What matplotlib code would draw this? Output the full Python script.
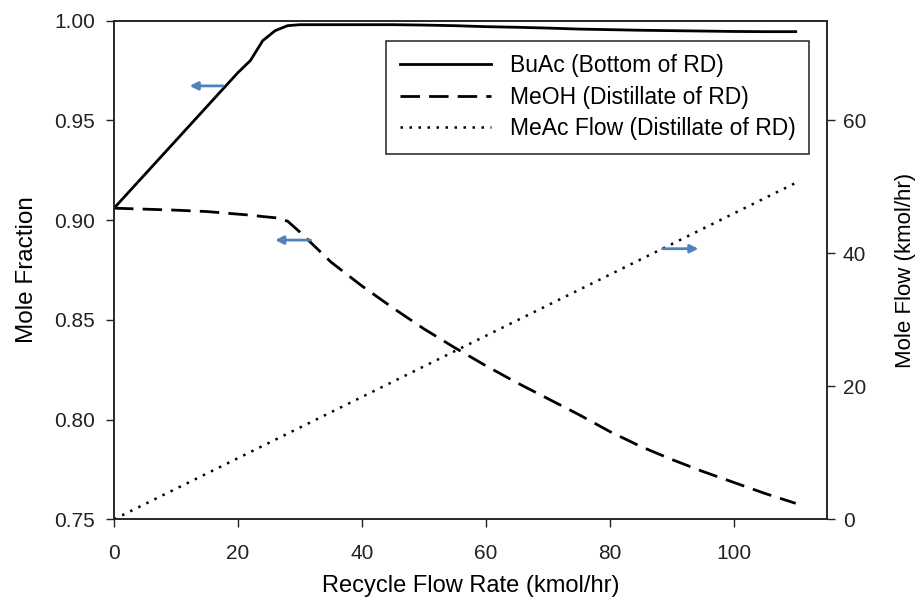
import matplotlib
matplotlib.use("Agg")
import matplotlib.pyplot as plt

plt.rcParams['font.family'] = ['Liberation Sans', 'DejaVu Sans']

# Recycle flow rate (kmol/hr)
recycle = [0, 5, 10, 15, 20, 22, 24, 26, 28, 30, 35, 40, 45, 50, 55, 60,
           65, 70, 75, 80, 85, 90, 95, 100, 105, 110]

# BuAc mole fraction, bottom of RD
buac = [0.906, 0.923, 0.940, 0.957, 0.974, 0.980, 0.990, 0.995, 0.9975, 0.998,
        0.998, 0.998, 0.998, 0.9978, 0.9975, 0.9970, 0.9967, 0.9963, 0.9958,
        0.9955, 0.9952, 0.9950, 0.9948, 0.9946, 0.9945, 0.9945]

# MeOH mole fraction, distillate of RD
meoh = [0.906, 0.9055, 0.905, 0.9043, 0.903, 0.9025, 0.9018, 0.9012, 0.8995, 0.894,
        0.879, 0.867, 0.856, 0.8455, 0.836, 0.827, 0.8185, 0.8105, 0.8025, 0.794,
        0.7865, 0.780, 0.774, 0.7685, 0.763, 0.758]

# MeAc flow in distillate of RD (kmol/hr)
meac_x = [0, 10, 20, 30, 40, 50, 60, 70, 80, 90, 100, 110]
meac = [0.0, 4.6, 9.2, 13.8, 18.4, 23.0, 27.6, 32.2, 36.8, 41.4, 46.0, 50.6]

# Axis-indicator arrows: (x_tail, x_head, y)
arrow_buac = (17.6, 12.2, 0.9673)
arrow_meoh = (31.7, 26.0, 0.890)
arrow_meac = (88.5, 94.3, 40.7)

arrow_color = '#4f81bd'

fig = plt.figure(figsize=(9.16, 5.98), dpi=100)
ax = fig.add_axes([0.1245, 0.1316, 0.778, 0.8338])
ax2 = ax.twinx()

l1, = ax.plot(recycle, buac, color='black', lw=2.0, label='BuAc (Bottom of RD)')
l2, = ax.plot(recycle, meoh, color='black', lw=2.0, linestyle=(0, (7, 3.3)),
              label='MeOH (Distillate of RD)')
l3, = ax2.plot(meac_x, meac, color='black', lw=1.8, linestyle=(0, (1, 2.6)),
               label='MeAc Flow (Distillate of RD)')

ax.set_xlim(0, 115)
ax.set_ylim(0.75, 1.00)
ax2.set_ylim(0, 75)
ax.set_xticks([0, 20, 40, 60, 80, 100])
ax.set_yticks([0.75, 0.80, 0.85, 0.90, 0.95, 1.00])
ax.set_yticklabels(['0.75', '0.80', '0.85', '0.90', '0.95', '1.00'])
ax2.set_yticks([0, 20, 40, 60])

for a in (ax, ax2):
    for s in a.spines.values():
        s.set_linewidth(1.1)
        s.set_color('#222222')
ax.tick_params(axis='both', labelsize=15, length=5.5, width=1.0, colors='#222222')
ax.tick_params(axis='x', pad=12)
ax.tick_params(axis='y', pad=8)
ax2.tick_params(axis='y', labelsize=15, length=5.5, width=1.0, pad=6, colors='#222222')

ax.set_xlabel('Recycle Flow Rate (kmol/hr)', fontsize=17, labelpad=9)
ax.set_ylabel('Mole Fraction', fontsize=17.5, labelpad=12)
ax2.set_ylabel('Mole Flow (kmol/hr)', fontsize=16, labelpad=21)

arrowprops = dict(arrowstyle='-|>', color=arrow_color, lw=2.0,
                  mutation_scale=12, shrinkA=0, shrinkB=0)
ax.annotate('', xy=(arrow_buac[1], arrow_buac[2]), xytext=(arrow_buac[0], arrow_buac[2]),
            arrowprops=arrowprops)
ax.annotate('', xy=(arrow_meoh[1], arrow_meoh[2]), xytext=(arrow_meoh[0], arrow_meoh[2]),
            arrowprops=arrowprops)
ax2.annotate('', xy=(arrow_meac[1], arrow_meac[2]), xytext=(arrow_meac[0], arrow_meac[2]),
             arrowprops=arrowprops)

leg = ax2.legend(handles=[l1, l2, l3], loc='upper right',
                 bbox_to_anchor=(0.9756, 0.96), borderaxespad=0,
                 fontsize=16.5, handlelength=4.0, handletextpad=0.8,
                 labelspacing=0.36, borderpad=0.6, fancybox=False,
                 framealpha=1, edgecolor='#222222')
leg.get_frame().set_linewidth(1.1)

fig.savefig('out.png', dpi=100)
